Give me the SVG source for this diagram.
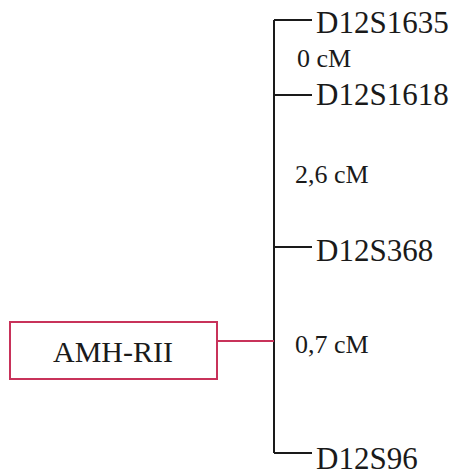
<svg xmlns="http://www.w3.org/2000/svg" width="455" height="475" viewBox="0 0 455 475">
<style>
.lbl{font-family:"Liberation Serif","Times New Roman",serif;font-size:31px;fill:#1a1a1a}
.box{font-family:"Liberation Serif","Times New Roman",serif;font-size:30px;fill:#1a1a1a}
.dist{font-family:"Liberation Serif","Times New Roman",serif;font-size:26px;fill:#1a1a1a}
.ln{stroke:#1a1a1a;stroke-width:2;fill:none}
.red{stroke:#c8325a;stroke-width:2;fill:none}
</style>
<rect width="455" height="475" fill="#fff"/>
<g id="connectors">
<path class="ln" d="M274,20 V453"/>
<path class="ln" d="M274,20 H312 M274,95 H312 M274,247 H312 M274,453 H312"/>
<path class="red" d="M217,341 H274"/>
</g>
<g id="AMH-RII"><rect class="red" x="10" y="322" width="207" height="57"/><text class="box" x="113" y="362" text-anchor="middle">AMH-RII</text></g>
<g id="D12S1635"><text class="lbl" x="316" y="33">D12S1635</text></g>
<g id="D12S1618"><text class="lbl" x="316" y="105">D12S1618</text></g>
<g id="D12S368"><text class="lbl" x="316" y="261">D12S368</text></g>
<g id="D12S96"><text class="lbl" x="316" y="469">D12S96</text></g>
<text class="dist" x="297" y="67">0 cM</text>
<text class="dist" x="295" y="183">2,6 cM</text>
<text class="dist" x="295" y="353">0,7 cM</text>
</svg>
